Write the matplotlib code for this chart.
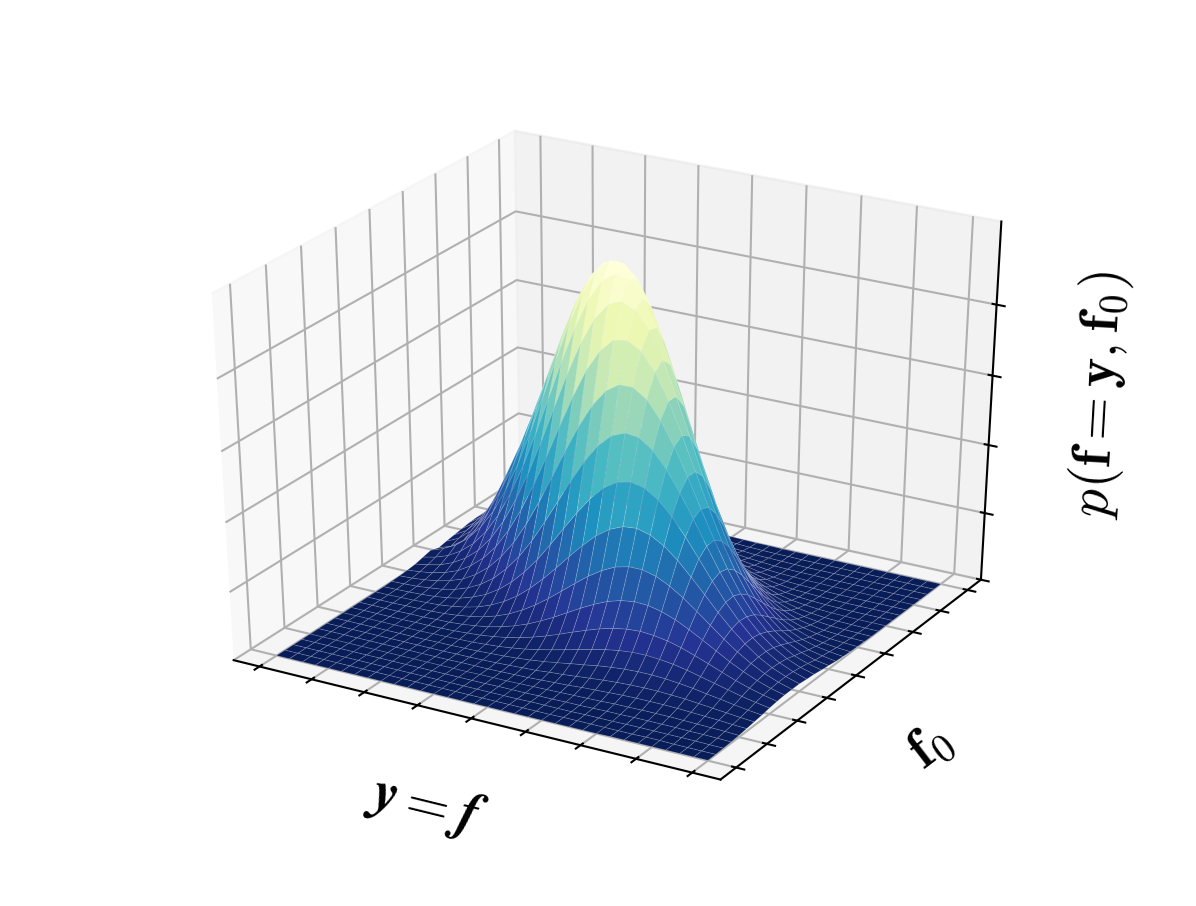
import matplotlib
matplotlib.use('Agg')
import matplotlib.pyplot as plt
import numpy as np
from mpl_toolkits.mplot3d import Axes3D

plt.rcParams['mathtext.fontset'] = 'cm'

x_grid = np.arange(-4, 4.01, 0.25)   # y = f
y_grid = np.arange(-4, 4.01, 0.25)   # f0
axis_ticks = [-4, -3, -2, -1, 0, 1, 2, 3, 4]
z_ticks = [0, 0.206, 0.412, 0.618, 0.824]

# surface height, one row per f0 value
z_rows = [
    [0]*25 + [.001,.001,.001,.001,.001,.001,.001,.001],
    [0]*21 + [.001,.001,.001,.001,.001,.001,.002,.002,.001,.001,.001,.001],
    [0]*18 + [.001,.001,.001,.001,.002,.002,.002,.003,.003,.003,.003,.003,.003,.002,.002],
    [0]*15 + [.001,.001,.001,.002,.002,.003,.003,.004,.005,.005,.006,.006,.006,.006,.005,.005,.004,.003],
    [0]*13 + [.001,.001,.001,.002,.003,.004,.005,.006,.007,.008,.010,.010,.011,.011,.011,.010,.009,.008,.007,.005],
    [0]*11 + [.001,.001,.001,.002,.003,.004,.006,.008,.010,.013,.015,.017,.019,.020,.020,.020,.019,.017,.015,.013,.010,.008],
    [0]*10 + [.001,.001,.002,.003,.005,.007,.009,.013,.016,.020,.024,.028,.031,.033,.034,.034,.032,.030,.026,.022,.018,.014,.011],
    [0]*8 + [.001,.001,.002,.003,.005,.007,.010,.014,.019,.025,.032,.038,.045,.050,.054,.056,.056,.054,.050,.045,.038,.032,.025,.019,.014],
    [0]*7 + [.001,.002,.003,.004,.007,.010,.015,.021,.029,.038,.048,.058,.068,.077,.084,.088,.089,.086,.081,.073,.063,.053,.043,.033,.025,.018],
    [0]*5 + [.001,.001,.002,.003,.006,.009,.014,.021,.030,.041,.054,.069,.085,.100,.114,.125,.132,.135,.132,.125,.114,.100,.085,.069,.054,.041,.030,.021],
    [0]*4 + [.001,.001,.003,.004,.007,.012,.018,.028,.040,.055,.074,.095,.118,.141,.162,.180,.192,.198,.196,.187,.172,.152,.130,.107,.084,.064,.047,.033,.023],
    [0]*3 + [.001,.002,.003,.005,.009,.015,.023,.035,.051,.072,.097,.126,.158,.190,.221,.247,.267,.277,.277,.267,.247,.221,.190,.158,.126,.097,.072,.051,.035,.023],
    [0]*2 + [.001,.002,.004,.006,.011,.018,.028,.043,.063,.089,.122,.160,.202,.246,.288,.326,.354,.371,.375,.364,.341,.308,.267,.224,.180,.140,.105,.075,.052,.035,.023],
    [0, .001,.002,.004,.007,.012,.020,.033,.050,.075,.107,.147,.194,.248,.305,.361,.412,.452,.478,.487,.478,.452,.412,.361,.305,.248,.194,.147,.107,.075,.050,.033,.020],
    [.001,.002,.004,.008,.013,.022,.036,.056,.084,.122,.169,.226,.292,.362,.433,.498,.552,.589,.606,.601,.573,.527,.466,.398,.327,.259,.197,.144,.102,.070,.046,.029,.018],
    [.002,.004,.008,.014,.024,.038,.061,.092,.134,.187,.253,.329,.412,.497,.577,.645,.696,.722,.722,.696,.645,.577,.497,.412,.329,.253,.187,.134,.092,.061,.038,.024,.014],
    [.004,.008,.014,.024,.039,.063,.096,.140,.199,.271,.356,.449,.547,.641,.725,.788,.827,.834,.811,.759,.685,.595,.498,.402,.311,.233,.168,.116,.078,.050,.031,.018,.011],
    [.007,.014,.023,.039,.062,.095,.141,.202,.278,.368,.470,.578,.684,.780,.857,.905,.923,.905,.857,.780,.684,.578,.470,.368,.278,.202,.141,.095,.062,.039,.023,.014,.007],
    [.013,.022,.036,.059,.091,.136,.197,.273,.366,.471,.584,.699,.804,.891,.952,.979,.970,.925,.851,.753,.642,.527,.417,.318,.233,.165,.113,.074,.046,.028,.017,.010,.005],
    [.019,.033,.053,.084,.127,.184,.258,.348,.453,.567,.684,.795,.889,.959,.995,.995,.959,.889,.795,.684,.567,.453,.348,.258,.184,.127,.084,.053,.033,.019,.011,.006,.003],
    [.011,.025,.052,.096,.157,.233,.318,.417,.527,.642,.753,.851,.925,.970,.979,.952,.891,.804,.699,.584,.471,.366,.273,.197,.136,.091,.059,.036,.022,.013,.007,.004,.002],
    [.016,.034,.067,.120,.192,.278,.368,.470,.578,.684,.780,.857,.905,.923,.905,.857,.780,.684,.578,.470,.368,.278,.202,.141,.095,.062,.039,.023,.014,.007,.004,.002,.001],
    [.020,.043,.081,.143,.221,.311,.402,.498,.595,.685,.759,.811,.834,.827,.788,.725,.641,.547,.449,.356,.271,.199,.140,.096,.063,.039,.024,.014,.008,.004,.002,.001,0],
    [.024,.051,.094,.159,.240,.329,.412,.497,.577,.645,.696,.722,.722,.696,.645,.577,.497,.412,.329,.253,.187,.134,.092,.061,.038,.024,.014,.008,.004,.002,.001,0,0],
    [.028,.056,.101,.167,.246,.327,.398,.466,.527,.573,.601,.606,.589,.552,.498,.433,.362,.292,.226,.169,.122,.084,.056,.036,.022,.013,.008,.004,.002,.001,0,0,0],
    [.030,.059,.103,.165,.236,.305,.361,.412,.452,.478,.487,.478,.452,.412,.361,.305,.248,.194,.147,.107,.075,.050,.033,.020,.012,.007,.004,.002,.001,0,0,0,0],
    [.030,.058,.098,.153,.213,.267,.308,.341,.364,.375,.371,.354,.326,.288,.246,.202,.160,.122,.089,.063,.043,.028,.018,.011,.006,.004,.002,.001,0,0,0,0,0],
    [.029,.053,.088,.134,.181,.221,.247,.267,.277,.277,.267,.247,.221,.190,.158,.126,.097,.072,.051,.035,.023,.015,.009,.005,.003,.002,.001,0,0,0,0,0,0],
    [.026,.046,.075,.111,.144,.172,.187,.196,.198,.192,.180,.162,.141,.118,.095,.074,.055,.040,.028,.018,.012,.007,.004,.003,.001,.001,0,0,0,0,0,0,0],
    [.022,.038,.060,.085,.108,.125,.132,.135,.132,.125,.114,.100,.085,.069,.054,.041,.030,.021,.014,.009,.006,.003,.002,.001,.001,0,0,0,0,0,0,0,0],
    [.017,.029,.044,.062,.077,.086,.089,.088,.084,.077,.068,.058,.048,.038,.029,.021,.015,.010,.007,.004,.003,.002,.001,0,0,0,0,0,0,0,0,0,0],
    [.013,.021,.032,.043,.051,.056,.056,.054,.050,.045,.038,.032,.025,.019,.014,.010,.007,.005,.003,.002,.001,.001,0,0,0,0,0,0,0,0,0,0,0],
    [.009,.014,.021,.027,.032,.034,.033,.031,.028,.024,.020,.016,.013,.009,.007,.005,.003,.002,.001,.001,0,0,0,0,0,0,0,0,0,0,0,0,0],
]

X, Y = np.meshgrid(x_grid, y_grid)
Z = np.array(z_rows)

fig = plt.figure(figsize=(1196/187, 906/187), dpi=187)
ax = fig.add_subplot(111, projection='3d')
ax.set_position([0.1074, 0.1125, 0.790, 0.776])
ax.set_box_aspect((1, 1, 1))
# cube stretched over the whole axes rectangle, not kept square
ax.apply_aspect = lambda position=None: ax._set_position(ax.get_position(original=True), 'active')

ax.plot_surface(X, Y, Z, rstride=1, cstride=1, cmap='YlGnBu_r', linewidth=0.3,
                edgecolor=(1, 1, 1, 0.18), antialiased=True)

ax.set_xlim(-4.5, 4.5)
ax.set_ylim(-4.5, 4.5)
ax.set_zlim(0, 1.06)
ax.set_xticks(axis_ticks)
ax.set_yticks(axis_ticks)
ax.set_zticks(z_ticks)
ax.set_xticklabels([])
ax.set_yticklabels([])
ax.set_zticklabels([])

ax.set_xlabel(r'$\mathbfit{y}=\mathbfit{f}$', fontsize=21.5, labelpad=5)
ax.set_ylabel(r'$\mathbf{f}_0$', fontsize=21.5, labelpad=4)
ax.set_zlabel(r'$p(\mathbf{f}=\mathbf{y},\mathbf{f}_0)$', fontsize=21.5, labelpad=3.5)

fig.savefig('out.png', dpi=187)
